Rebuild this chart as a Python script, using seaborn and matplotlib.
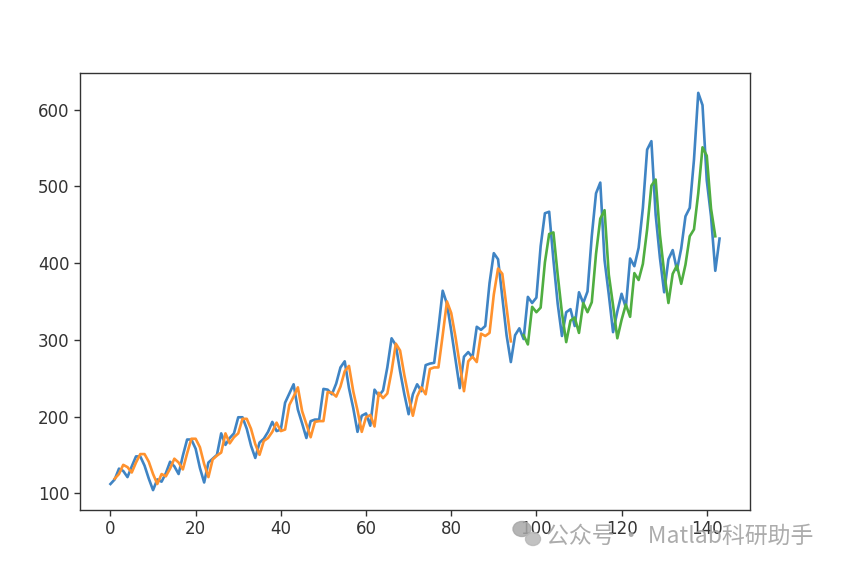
import matplotlib
matplotlib.use("Agg")
import matplotlib.pyplot as plt
from matplotlib.patches import Ellipse
import seaborn as sns
import numpy as np
import pandas as pd

# Actual series (monthly airline passengers)
actual = [112,118,132,129,121,135,148,148,136,119,104,118,
          115,126,141,135,125,149,170,170,158,133,114,140,
          145,150,178,163,172,178,199,199,184,162,146,166,
          171,180,193,181,183,218,230,242,209,191,172,194,
          196,196,236,235,229,243,264,272,237,211,180,201,
          204,188,235,227,234,264,302,293,259,229,203,229,
          242,233,267,269,270,315,364,347,312,274,237,278,
          284,277,317,313,318,374,413,405,355,306,271,306,
          315,301,356,348,355,422,465,467,404,347,305,336,
          340,318,362,348,363,435,491,505,404,359,310,337,
          360,342,406,396,420,472,548,559,463,407,362,405,
          417,391,419,461,472,535,622,606,508,461,390,432]

# Train predictions (indices 1..94)
train_start = 1
train_pred = [119,125,137,134,127,140,151,151,141,125,112,125,
              122,132,145,140,131,152,171,171,160,138,121,144,
              149,153,178,165,173,178,197,197,184,164,150,168,
              172,180,192,181,183,215,226,238,207,190,173,193,
              194,194,232,231,226,239,259,266,233,208,180,199,
              202,187,231,224,230,259,295,286,254,226,201,226,
              238,229,262,264,264,306,350,335,304,268,233,272,
              278,271,308,305,309,359,393,386,342,298]

# Test predictions (indices 97..142)
test_start = 97
test_pred = [306,294,343,336,342,401,438,440,385,335,297,325,
             329,309,348,336,349,412,458,469,385,345,302,326,
             346,330,387,378,399,444,501,509,437,388,348,386,
             397,373,398,435,444,491,551,540,471,435]

df_a = pd.DataFrame({"x": np.arange(len(actual)), "y": actual})
df_tr = pd.DataFrame({"x": np.arange(train_start, train_start + len(train_pred)), "y": train_pred})
df_te = pd.DataFrame({"x": np.arange(test_start, test_start + len(test_pred)), "y": test_pred})

fig = plt.figure(figsize=(8.41, 5.68), dpi=100)
ax = fig.add_axes([80/841, 58/568, 670/841, 437/568])

lw = 1.9
sns.lineplot(data=df_a, x="x", y="y", ax=ax, color="#3f84c4", lw=lw)
sns.lineplot(data=df_tr, x="x", y="y", ax=ax, color="#ff922e", lw=lw)
sns.lineplot(data=df_te, x="x", y="y", ax=ax, color="#4fae41", lw=lw)

ax.set_xlabel("")
ax.set_ylabel("")
ax.set_xticks([0, 20, 40, 60, 80, 100, 120, 140])
ax.set_yticks([100, 200, 300, 400, 500, 600])
ax.tick_params(labelsize=12, colors="#333333", length=4, width=1)
for s in ax.spines.values():
    s.set_color("#333333")
    s.set_linewidth(1.0)

# watermark (WeChat-like icon + text)
fig.patches.append(Ellipse((522/841, 1 - 529/568), 18/841, 15/568,
                           transform=fig.transFigure, color="#a8a8a8", alpha=0.85, zorder=0))
fig.patches.append(Ellipse((533/841, 1 - 539/568), 15/841, 13/568,
                           transform=fig.transFigure, color="#b8b8b8", alpha=0.85, zorder=0))
fig.text(546/841, 1 - 536/568, "公众号 · Matlab科研助手", ha="left", va="center",
         fontsize=16.5, color="#9e9e9e", alpha=0.85, zorder=0,
         family=["Noto Sans CJK SC", "DejaVu Sans"])

fig.savefig("out.png", dpi=100)
